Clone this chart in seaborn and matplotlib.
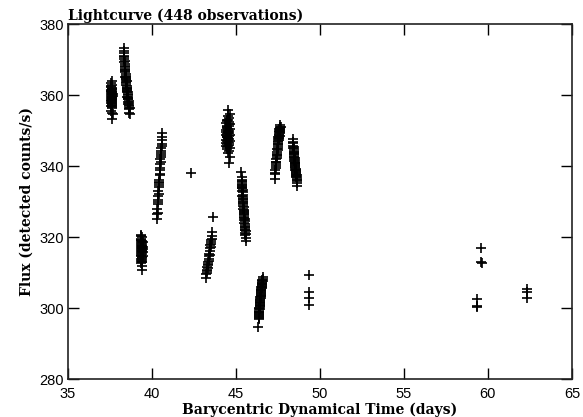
"""
Lightcurve scatter: flux against barycentric dynamical time
"""

import matplotlib
matplotlib.use('Agg')
import matplotlib.pyplot as plt
import pandas as pd
import seaborn as sns

TITLE = 'Lightcurve (448 observations)'
X_LABEL = 'Barycentric Dynamical Time (days)'
Y_LABEL = 'Flux (detected counts/s)'
X_TICKS = [35, 40, 45, 50, 55, 60, 65]
Y_TICKS = [280, 300, 320, 340, 360, 380]

time_1 = [37.56, 37.56, 37.57, 37.57, 37.57, 37.58, 37.58, 37.58, 37.58, 37.59,
          37.59, 37.59, 37.60, 37.60, 37.60, 37.60, 37.61, 37.61, 37.61, 37.61,
          37.62, 37.62, 37.62, 37.62, 37.63, 37.63, 37.63, 37.63, 37.64, 37.64,
          37.64, 37.64, 37.65, 37.65, 37.65, 37.65, 37.66, 37.66, 37.66, 37.57,
          37.59, 37.61, 37.63, 37.65]
flux_1 = [359.2, 361.5, 357.8, 360.4, 362.3, 358.6, 356.9, 360.9, 363.4, 359.7,
          355.6, 361.1, 358.1, 360.0, 357.2, 362.8, 359.4, 353.4, 361.8, 358.9,
          356.3, 360.6, 359.0, 357.5, 361.3, 363.9, 358.3, 360.2, 355.1, 359.6,
          362.0, 357.0, 360.8, 358.7, 361.0, 356.6, 359.9, 354.6, 360.3, 358.4,
          362.6, 357.9, 359.3, 361.7]

time_2 = [38.32, 38.33, 38.34, 38.34, 38.35, 38.36, 38.36, 38.37, 38.38, 38.38,
          38.39, 38.40, 38.40, 38.41, 38.42, 38.42, 38.43, 38.44, 38.44, 38.45,
          38.46, 38.46, 38.47, 38.48, 38.48, 38.49, 38.50, 38.50, 38.51, 38.52,
          38.52, 38.53, 38.54, 38.54, 38.55, 38.56, 38.56, 38.57, 38.58, 38.58,
          38.59, 38.60, 38.60, 38.61, 38.62, 38.62, 38.63, 38.64, 38.65, 38.66,
          38.67, 38.68]
flux_2 = [373.2, 371.8, 372.5, 370.1, 371.0, 369.4, 370.8, 368.2, 369.7, 367.5,
          368.9, 366.4, 368.0, 367.1, 365.2, 366.8, 364.6, 366.0, 365.5, 363.8,
          365.1, 364.2, 362.9, 364.7, 363.3, 362.1, 363.9, 361.5, 362.7, 360.8,
          362.0, 361.2, 359.6, 361.7, 360.3, 358.9, 360.9, 359.1, 360.0, 358.2,
          359.5, 357.6, 358.8, 357.0, 358.4, 356.5, 357.9, 356.1, 357.3, 355.0,
          356.4, 354.8]

time_3 = [39.32, 39.32, 39.33, 39.33, 39.34, 39.34, 39.35, 39.35, 39.35, 39.36,
          39.36, 39.36, 39.37, 39.37, 39.37, 39.38, 39.38, 39.38, 39.39, 39.39,
          39.39, 39.40, 39.40, 39.40, 39.41, 39.41, 39.41, 39.42, 39.42, 39.42,
          39.43, 39.43, 39.43, 39.44, 39.44, 39.44, 39.45, 39.45, 39.34, 39.38]
flux_3 = [317.2, 319.6, 315.4, 318.3, 313.9, 316.7, 320.3, 314.8, 317.9, 312.6,
          316.1, 318.8, 315.0, 319.2, 313.3, 317.5, 311.8, 316.4, 318.1, 314.3,
          317.0, 315.7, 319.9, 313.6, 316.9, 318.5, 310.7, 315.2, 317.6, 314.0,
          316.2, 319.0, 312.9, 317.3, 315.8, 318.7, 314.6, 316.6, 320.6, 313.1]

time_4 = [40.30, 40.31, 40.32, 40.33, 40.34, 40.35, 40.36, 40.37, 40.38, 40.39,
          40.40, 40.41, 40.42, 40.43, 40.44, 40.45, 40.46, 40.47, 40.48, 40.49,
          40.50, 40.51, 40.52, 40.53, 40.54, 40.55, 40.56, 40.57, 40.58, 40.59,
          40.60, 40.62]
flux_4 = [325.2, 326.4, 327.9, 326.8, 329.3, 330.5, 329.8, 331.6, 333.0, 332.2,
          334.1, 335.3, 334.6, 336.0, 335.5, 337.4, 338.8, 337.9, 339.5, 340.7,
          341.9, 342.6, 341.3, 343.0, 344.2, 343.7, 345.1, 346.3, 345.8, 347.4,
          348.1, 349.2]

time_5 = [42.35]
flux_5 = [338.2]

time_6 = [43.22, 43.24, 43.25, 43.27, 43.28, 43.30, 43.31, 43.33, 43.34, 43.36,
          43.37, 43.38, 43.40, 43.41, 43.43, 43.44, 43.46, 43.47, 43.49, 43.50,
          43.52, 43.53, 43.55, 43.57, 43.59, 43.62]
flux_6 = [308.6, 309.5, 310.8, 309.9, 311.6, 310.4, 312.3, 311.2, 313.0, 312.0,
          313.8, 314.6, 313.4, 315.3, 316.2, 315.0, 316.9, 317.8, 317.2, 318.5,
          319.3, 318.0, 320.2, 319.6, 321.5, 325.6]

time_7 = [44.40, 44.41, 44.41, 44.42, 44.42, 44.43, 44.43, 44.44, 44.44, 44.45,
          44.45, 44.46, 44.46, 44.47, 44.47, 44.48, 44.48, 44.49, 44.49, 44.50,
          44.50, 44.51, 44.51, 44.52, 44.52, 44.53, 44.53, 44.54, 44.54, 44.55,
          44.55, 44.56, 44.56, 44.57, 44.57, 44.58, 44.58, 44.59, 44.59, 44.60,
          44.60, 44.61, 44.61, 44.62, 44.62, 44.63, 44.63, 44.64, 44.64, 44.65,
          44.52, 44.48]
flux_7 = [347.5, 350.2, 345.8, 348.9, 352.1, 346.6, 349.7, 351.4, 344.9, 348.2,
          353.0, 347.0, 350.8, 345.3, 349.1, 352.6, 346.2, 348.6, 351.0, 343.6,
          347.9, 354.2, 349.4, 346.9, 352.9, 348.0, 350.5, 345.6, 355.8, 347.3,
          349.9, 351.8, 346.4, 353.5, 348.4, 344.2, 350.0, 347.7, 352.3, 341.0,
          349.2, 346.0, 351.2, 348.7, 354.7, 345.1, 350.4, 347.1, 352.0, 342.5,
          349.6, 348.1]

time_8 = [45.32, 45.33, 45.33, 45.34, 45.34, 45.35, 45.35, 45.36, 45.36, 45.37,
          45.37, 45.38, 45.38, 45.39, 45.39, 45.40, 45.40, 45.41, 45.41, 45.42,
          45.42, 45.43, 45.43, 45.44, 45.44, 45.45, 45.45, 45.46, 45.46, 45.47,
          45.47, 45.48, 45.48, 45.49, 45.49, 45.50, 45.51, 45.51, 45.52, 45.52,
          45.53, 45.54, 45.54, 45.55, 45.56, 45.56, 45.57, 45.58, 45.59, 45.60]
flux_8 = [338.3, 336.9, 335.5, 336.2, 334.8, 335.9, 333.7, 334.4, 335.1, 332.9,
          333.8, 334.0, 331.6, 332.7, 333.2, 330.8, 331.9, 330.2, 331.3, 329.5,
          330.6, 328.7, 329.9, 328.0, 329.2, 327.4, 328.5, 326.8, 327.7, 326.1,
          327.0, 325.3, 326.4, 324.7, 325.8, 324.0, 325.1, 323.2, 324.4, 322.6,
          323.6, 321.9, 322.8, 321.2, 322.1, 320.5, 321.6, 319.8, 320.9, 318.8]

time_9 = [46.33, 46.35, 46.35, 46.36, 46.36, 46.37, 46.37, 46.38, 46.38, 46.39,
          46.39, 46.40, 46.40, 46.41, 46.41, 46.42, 46.42, 46.43, 46.43, 46.44,
          46.44, 46.45, 46.45, 46.46, 46.46, 46.47, 46.47, 46.48, 46.48, 46.49,
          46.49, 46.50, 46.50, 46.51, 46.51, 46.52, 46.52, 46.53, 46.53, 46.54,
          46.54, 46.55, 46.55, 46.56, 46.56, 46.57, 46.57, 46.58, 46.59, 46.60]
flux_9 = [294.7, 297.2, 298.1, 296.8, 297.9, 298.6, 297.5, 299.0, 298.3, 299.6,
          298.8, 300.1, 299.3, 300.7, 299.8, 301.0, 300.4, 301.5, 300.9, 302.1,
          301.3, 302.6, 301.8, 303.0, 302.3, 303.5, 302.9, 304.0, 303.4, 304.5,
          303.8, 305.0, 304.3, 305.4, 304.8, 305.9, 305.2, 306.3, 305.6, 306.7,
          306.0, 307.1, 306.4, 307.5, 306.9, 307.8, 307.2, 308.3, 307.6, 308.8]

time_10 = [47.32, 47.33, 47.34, 47.35, 47.36, 47.37, 47.38, 47.39, 47.40, 47.41,
           47.42, 47.43, 47.44, 47.45, 47.46, 47.47, 47.48, 47.48, 47.49, 47.50,
           47.50, 47.51, 47.52, 47.52, 47.53, 47.54, 47.54, 47.55, 47.56, 47.56,
           47.57, 47.58, 47.58, 47.59, 47.60, 47.60, 47.61, 47.62, 47.62, 47.63,
           47.64, 47.64, 47.65, 47.66]
flux_10 = [336.5, 337.8, 339.0, 338.2, 340.1, 339.4, 341.3, 340.6, 342.0, 341.1,
           342.8, 343.5, 342.4, 344.1, 343.2, 344.9, 345.6, 344.5, 346.3, 345.2,
           347.0, 346.1, 347.6, 346.8, 348.2, 347.3, 348.9, 348.0, 349.5, 347.8,
           348.6, 350.0, 349.1, 350.6, 349.7, 348.4, 350.3, 351.1, 349.3, 350.8,
           351.5, 349.9, 350.5, 351.0]

time_11 = [48.40, 48.41, 48.41, 48.42, 48.42, 48.43, 48.43, 48.44, 48.44, 48.45,
           48.45, 48.46, 48.46, 48.47, 48.47, 48.48, 48.48, 48.49, 48.49, 48.50,
           48.50, 48.51, 48.51, 48.52, 48.52, 48.53, 48.53, 48.54, 48.55, 48.55,
           48.56, 48.57, 48.57, 48.58, 48.59, 48.59, 48.60, 48.61, 48.62, 48.62,
           48.63, 48.64, 48.65, 48.66]
flux_11 = [347.6, 346.4, 345.7, 346.9, 345.0, 344.3, 345.5, 344.8, 343.6, 344.1,
           343.0, 343.8, 342.5, 343.3, 342.0, 342.7, 341.4, 342.2, 341.0, 341.7,
           340.6, 341.3, 340.1, 340.8, 339.5, 340.3, 339.0, 339.8, 338.6, 339.3,
           338.1, 338.8, 337.6, 338.3, 337.2, 337.8, 336.8, 337.4, 336.3, 336.9,
           335.8, 336.0, 335.2, 334.4]

time_12 = [49.35, 49.35, 49.35, 49.35]
flux_12 = [309.2, 304.6, 302.9, 300.9]

time_13 = [59.35, 59.35, 59.36, 59.60, 59.61, 59.62]
flux_13 = [302.5, 300.7, 300.4, 316.9, 313.0, 312.6]

time_14 = [62.30, 62.30, 62.30]
flux_14 = [305.5, 304.6, 302.9]

TIMES = [time_1, time_2, time_3, time_4, time_5, time_6, time_7,
         time_8, time_9, time_10, time_11, time_12, time_13, time_14]
FLUXES = [flux_1, flux_2, flux_3, flux_4, flux_5, flux_6, flux_7,
          flux_8, flux_9, flux_10, flux_11, flux_12, flux_13, flux_14]

LABEL_FONT = dict(family='DejaVu Serif', weight='bold', size=10, color='black')


def main():
    sns.set_style('ticks')
    plt.rcParams['font.family'] = ['Liberation Sans', 'DejaVu Sans']
    plt.rcParams['text.color'] = 'black'
    plt.rcParams['axes.labelcolor'] = 'black'

    # one long table of all observations
    df = pd.DataFrame({
        'time': [t for group in TIMES for t in group],
        'flux': [f for group in FLUXES for f in group],
    })

    fig, ax = plt.subplots(figsize=(5.83, 4.17), dpi=100)
    fig.subplots_adjust(left=0.1166, right=0.981, bottom=0.091, top=0.942)

    sns.scatterplot(data=df, x='time', y='flux', marker='+', color='black',
                    s=46, linewidth=1.2, ax=ax, legend=False)

    ax.set_xlim(35, 65)
    ax.set_ylim(280, 380)
    ax.set_xticks(X_TICKS)
    ax.set_yticks(Y_TICKS)
    ax.tick_params(direction='in', length=8, width=1, top=True, right=True,
                   labelsize=10.5, colors='black')
    ax.tick_params(axis='x', pad=6)
    ax.tick_params(axis='y', pad=3)
    for spine in ax.spines.values():
        spine.set_linewidth(1.2)
        spine.set_color('#222222')

    ax.set_xlabel(X_LABEL, fontdict=LABEL_FONT, labelpad=1)
    ax.set_ylabel(Y_LABEL, fontdict=LABEL_FONT, labelpad=4)
    ax.set_title(TITLE, fontdict=LABEL_FONT, loc='left', pad=3)

    fig.savefig('out.png', dpi=100)


if __name__ == '__main__':
    main()
